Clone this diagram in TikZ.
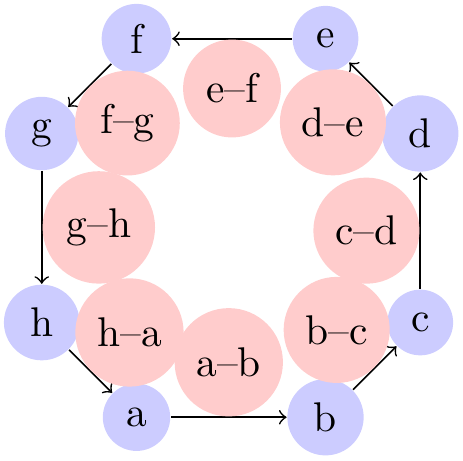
\documentclass[tikz,border=0pt]{standalone}
\begin{document}
\begin{tikzpicture}[x=0.241pt,y=-0.241pt,
  vtx/.style={circle,fill=blue!20},
  lbl/.style={circle,fill=red!20,auto},
  every edge/.style={draw,->}]
\useasboundingbox (0,0) rectangle (463,460);
\node[vtx] (a) at (136.5,417.25) {a};
\node[vtx] (b) at (325.5,417.25) {b};
\node[vtx] (c) at (420.25,322.5) {c};
\node[vtx] (d) at (420.25,133.5) {d};
\node[vtx] (e) at (325.5,38.75) {e};
\node[vtx] (f) at (136.5,38.75) {f};
\node[vtx] (g) at (41.75,133.5) {g};
\node[vtx] (h) at (41.75,322.5) {h};
\path (a) edge node[lbl] {a--b} (b)
      (b) edge node[lbl] {b--c} (c)
      (c) edge node[lbl] {c--d} (d)
      (d) edge node[lbl] {d--e} (e)
      (e) edge node[lbl] {e--f} (f)
      (f) edge node[lbl] {f--g} (g)
      (g) edge node[lbl] {g--h} (h)
      (h) edge node[lbl] {h--a} (a);
\end{tikzpicture}
\end{document}
